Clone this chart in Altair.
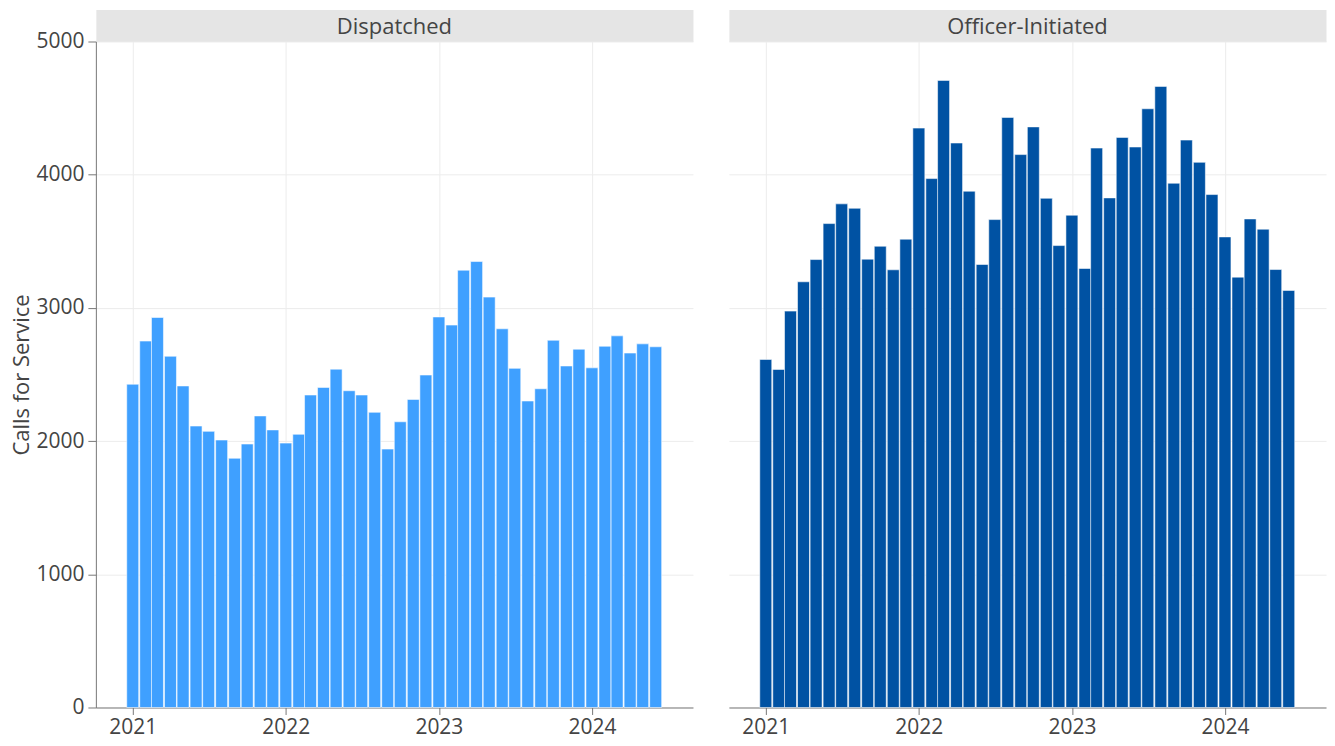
import altair as alt
import pandas as pd

FONT = "Open Sans"

months = [
    "2021-01-01", "2021-02-01", "2021-03-01", "2021-04-01", "2021-05-01", "2021-06-01",
    "2021-07-01", "2021-08-01", "2021-09-01", "2021-10-01", "2021-11-01", "2021-12-01",
    "2022-01-01", "2022-02-01", "2022-03-01", "2022-04-01", "2022-05-01", "2022-06-01",
    "2022-07-01", "2022-08-01", "2022-09-01", "2022-10-01", "2022-11-01", "2022-12-01",
    "2023-01-01", "2023-02-01", "2023-03-01", "2023-04-01", "2023-05-01", "2023-06-01",
    "2023-07-01", "2023-08-01", "2023-09-01", "2023-10-01", "2023-11-01", "2023-12-01",
    "2024-01-01", "2024-02-01", "2024-03-01", "2024-04-01", "2024-05-01", "2024-06-01",
]

dispatched = [
    2427, 2751, 2928, 2637, 2414, 2113, 2073, 2008, 1871, 1978, 2189, 2084,
    1985, 2051, 2346, 2403, 2540, 2378, 2346, 2216, 1940, 2145, 2313, 2496,
    2932, 2871, 3283, 3348, 3081, 2843, 2546, 2301, 2393, 2757, 2564, 2690,
    2550, 2712, 2790, 2661, 2730, 2708,
]

officer_initiated = [
    2613, 2538, 2976, 3196, 3363, 3633, 3781, 3748, 3366, 3463, 3286, 3516,
    4350, 3971, 4708, 4238, 3876, 3326, 3663, 4430, 4151, 4359, 3823, 3468,
    3696, 3296, 4200, 3826, 4280, 4208, 4495, 4663, 3936, 4260, 4093, 3851,
    3533, 3231, 3668, 3591, 3288, 3131,
]

panels = ["Dispatched", "Officer-Initiated"]
colors = ["#3fa0ff", "#0052a3"]
year_ticks = [2021, 2022, 2023, 2024]
y_ticks = [0, 1000, 2000, 3000, 4000, 5000]

df = pd.DataFrame({
    "month": months * 2,
    "type": [panels[0]] * len(months) + [panels[1]] * len(months),
    "calls": dispatched + officer_initiated,
})

x_domain = [
    alt.DateTime(year=2020, month=10, date=17, utc=True),
    alt.DateTime(year=2024, month=8, date=17, utc=True),
]
x_values = [alt.DateTime(year=y, month=1, date=1, utc=True) for y in year_ticks]

W, H, HEADER_H = 598, 667, 32


def panel(name, color, show_y):
    if show_y:
        yaxis = alt.Axis(title="Calls for Service", values=y_ticks, format="d", tickSize=8,
                         labelPadding=4, titlePadding=2, grid=True)
    else:
        yaxis = alt.Axis(title=None, values=y_ticks, labels=False, ticks=False,
                         domain=False, grid=True)
    bars = (
        alt.Chart(df)
        .transform_filter(alt.datum.type == name)
        .mark_bar(width=12, color=color, stroke="white", strokeWidth=1, strokeOpacity=0.55)
        .encode(
            x=alt.X("month:T",
                    scale=alt.Scale(type="utc", domain=x_domain),
                    axis=alt.Axis(title=None, values=x_values, format="%Y",
                                  tickSize=7, labelPadding=2, grid=True)),
            y=alt.Y("calls:Q", scale=alt.Scale(domain=[0, 5000], nice=False, zero=True),
                    axis=yaxis),
            tooltip=[alt.Tooltip("month:T", format="%b %Y"), "calls:Q"],
        )
        .properties(width=W, height=H)
    )
    header = (
        alt.Chart(pd.DataFrame({"label": [name]}))
        .mark_text(font=FONT, fontSize=22, color="#444", align="center", baseline="alphabetic")
        .encode(text="label:N", x=alt.value(W / 2), y=alt.value(24))
        .properties(width=W, height=HEADER_H,
                    view=alt.ViewBackground(fill="#e5e5e5", stroke="transparent"))
    )
    return alt.vconcat(header, bars, spacing=0, bounds="flush")


chart = (
    alt.hconcat(panel(panels[0], colors[0], True), panel(panels[1], colors[1], False),
                spacing=34)
    .properties(padding={"left": 2, "top": 0, "right": 0, "bottom": 0})
    .configure_view(stroke="transparent")
    .configure_axis(
        labelFont=FONT, labelFontSize=21, labelColor="#444",
        titleFont=FONT, titleFontSize=22, titleColor="#444", titleFontWeight="normal",
        gridColor="#ececec", gridWidth=1,
        domainColor="#777", tickColor="#777",
    )
)

chart.save("out.html", embed_options={"renderer": "svg", "actions": False})
